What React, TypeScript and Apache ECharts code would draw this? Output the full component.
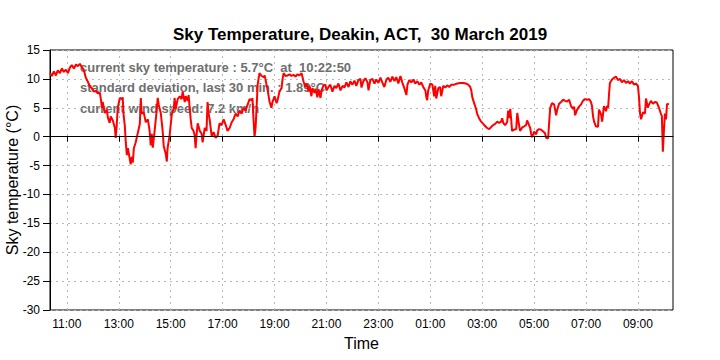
import React, { useEffect, useRef } from "react";
import * as echarts from "echarts";

// Time is expressed in hours since 00:00 on 30 March 2019 (values > 24 are 31 March).
const TITLE = "Sky Temperature, Deakin, ACT,  30 March 2019";
const Y_NAME = "Sky temperature (\u00B0C)";
const X_NAME = "Time";
const infoLines = [
  "current sky temperature : 5.7\u00B0C  at  10:22:50",
  "standard deviation, last 30 min. : 1.89\u00B0C",
  "current wind speed: 7.2 km/h",
];
const xStart = 10.35;
const xEnd = 34.35;
const xTickHours = [11, 13, 15, 17, 19, 21, 23, 25, 27, 29, 31, 33];
const yMin = -30;
const yMax = 15;
const yStep = 5;

const morning: [number, number][] = [
  [10.35, 11.0], [10.42, 10.5], [10.5, 11.3], [10.58, 10.6], [10.65, 11.5], [10.73, 11.0], [10.81, 11.8], [10.88, 11.2],
  [10.96, 11.6], [11.04, 11.0], [11.12, 12.0], [11.19, 12.4], [11.27, 11.8], [11.35, 12.5], [11.42, 12.2], [11.5, 12.6],
  [11.58, 12.0], [11.65, 11.6], [11.73, 10.2], [11.81, 9.5], [11.88, 8.7], [11.96, 8.4], [12.04, 7.8], [12.12, 7.9],
  [12.19, 7.5], [12.27, 7.6], [12.31, 6.5], [12.35, 5.0], [12.38, 6.0], [12.46, 4.1], [12.54, 4.6], [12.58, 3.3],
  [12.65, 2.4], [12.69, 3.5], [12.77, 2.8], [12.85, 1.5], [12.88, -0.2], [12.92, 2.0], [12.96, 5.0], [13.04, 6.7],
  [13.12, 6.5], [13.15, 6.8], [13.19, 3.5], [13.23, 2.0], [13.27, -1.0], [13.31, -3.2], [13.35, -2.0], [13.42, -3.8],
  [13.46, -4.8], [13.5, -3.5], [13.54, -4.5], [13.58, -2.0], [13.65, -1.0], [13.73, 0.6], [13.81, 2.2], [13.85, 6.7],
  [13.88, 4.0], [13.96, 4.2], [14.04, 2.5], [14.12, 3.0], [14.19, 0.9], [14.23, -1.5], [14.27, 0.5], [14.31, -1.9],
  [14.38, 1.0], [14.46, 4.5], [14.5, 6.7], [14.54, 5.5], [14.62, 4.0], [14.69, 1.0], [14.73, -1.6], [14.81, -3.0],
  [14.85, -4.3], [14.88, -2.0],
];

const afternoon: [number, number][] = [
  [14.96, 0.3], [15.04, 3.8], [15.12, 5.0], [15.15, 6.7], [15.19, 4.8], [15.27, 6.5], [15.35, 7.0], [15.42, 6.5],
  [15.46, 7.8], [15.54, 6.0], [15.58, 7.0], [15.65, 6.2], [15.69, 7.2], [15.73, 5.0], [15.77, 3.0], [15.81, 1.5],
  [15.88, 1.0], [15.92, 0.3], [15.96, -2.0], [16.0, 0.5], [16.04, 2.3], [16.12, 1.0], [16.19, 0.5], [16.23, -1.0],
  [16.31, 1.5], [16.38, 1.0], [16.42, 6.0], [16.46, 4.0], [16.5, 3.0], [16.58, 0.0], [16.65, 0.8], [16.73, -0.2],
  [16.81, 0.2], [16.88, 2.3], [16.96, 2.0], [17.04, 3.0], [17.12, 2.0], [17.19, 1.0], [17.27, 1.5], [17.35, 2.5],
  [17.42, 3.0], [17.5, 4.0], [17.58, 3.5], [17.65, 4.5], [17.73, 4.0], [17.81, 5.0], [17.88, 4.5], [17.96, 5.5],
  [18.04, 6.5], [18.12, 6.3], [18.15, 6.7], [18.19, 3.0], [18.23, 0.0], [18.27, 1.5],
];

const evening: [number, number][] = [
  [18.35, 9.0], [18.42, 11.0], [18.5, 10.5], [18.58, 10.3], [18.62, 10.6], [18.69, 9.0], [18.73, 8.2], [18.81, 6.0],
  [18.88, 5.0], [18.92, 6.0], [19.0, 7.0], [19.08, 5.8], [19.12, 6.4], [19.19, 7.8], [19.27, 8.4], [19.31, 10.0],
  [19.35, 11.0], [19.42, 10.5], [19.5, 10.6], [19.58, 10.8], [19.65, 10.5], [19.73, 10.7], [19.81, 10.4], [19.88, 10.8],
  [19.96, 10.6], [20.04, 11.0], [20.12, 9.5], [20.19, 8.6], [20.23, 9.2], [20.31, 7.8], [20.35, 8.8], [20.42, 7.0],
  [20.46, 8.4], [20.54, 7.6], [20.58, 8.3], [20.65, 6.8], [20.69, 8.2], [20.77, 6.7], [20.81, 8.0], [20.88, 8.8],
  [20.96, 9.0], [21.0, 8.0], [21.08, 8.6], [21.15, 9.0], [21.23, 7.8], [21.31, 8.8], [21.38, 8.4], [21.46, 9.2],
  [21.54, 8.0], [21.62, 8.8], [21.69, 8.5], [21.77, 9.4], [21.85, 8.6], [21.92, 9.6], [22.0, 9.0], [22.08, 9.7],
  [22.15, 8.8], [22.23, 9.8], [22.31, 10.0], [22.35, 8.5], [22.42, 9.6], [22.5, 10.1], [22.58, 9.4], [22.62, 8.0],
  [22.69, 9.8], [22.77, 10.0], [22.85, 9.2], [22.92, 9.9], [23.0, 9.3], [23.08, 10.2], [23.15, 9.4], [23.23, 8.6],
  [23.31, 9.9], [23.38, 10.2], [23.46, 9.5], [23.54, 10.4], [23.62, 9.6], [23.69, 10.3], [23.77, 9.2], [23.85, 10.5],
];

const night: [number, number][] = [
  [23.92, 9.4], [24.0, 8.4], [24.08, 7.2], [24.12, 9.0], [24.19, 9.8], [24.27, 9.4], [24.35, 9.9], [24.42, 9.2],
  [24.5, 9.6], [24.58, 9.0], [24.65, 9.4], [24.73, 8.6], [24.81, 8.0], [24.85, 6.8], [24.88, 6.3], [24.92, 8.0],
  [25.0, 9.2], [25.08, 9.0], [25.15, 7.0], [25.19, 8.8], [25.23, 6.6], [25.31, 8.4], [25.38, 8.6], [25.42, 7.0],
  [25.5, 8.8], [25.58, 8.5], [25.65, 8.9], [25.73, 8.6], [25.81, 9.0], [25.92, 9.0], [26.04, 9.2], [26.15, 9.3],
  [26.27, 9.3], [26.38, 9.2], [26.46, 9.0], [26.54, 8.6], [26.58, 8.0], [26.62, 6.8], [26.69, 5.8], [26.77, 4.7],
  [26.81, 3.9], [26.88, 3.2], [26.96, 2.6], [27.04, 2.2], [27.12, 1.8], [27.19, 1.5], [27.27, 1.3], [27.35, 1.7],
  [27.42, 2.0], [27.5, 2.2], [27.58, 2.6], [27.65, 2.4], [27.73, 2.6], [27.77, 3.2], [27.81, 2.4], [27.88, 2.0],
  [27.96, 2.5], [28.0, 4.5], [28.04, 3.2], [28.08, 4.8], [28.12, 2.8],
];

const dawn: [number, number][] = [
  [28.15, 1.0], [28.23, 1.2], [28.31, 1.3], [28.35, 4.1], [28.38, 3.2], [28.42, 2.0], [28.46, 1.0], [28.54, 1.6],
  [28.62, 1.8], [28.69, 2.0], [28.73, 2.8], [28.77, 2.4], [28.85, 1.5], [28.88, 0.6], [28.92, -0.1], [29.0, 0.9],
  [29.08, 0.4], [29.12, 1.1], [29.19, 1.3], [29.27, 1.2], [29.35, 0.9], [29.42, 0.6], [29.46, -0.2], [29.54, -0.3],
  [29.58, 2.5], [29.62, 5.0], [29.69, 5.8], [29.77, 5.6], [29.85, 3.7], [29.88, 4.5], [29.96, 5.7], [30.04, 6.0],
  [30.12, 6.4], [30.19, 6.2], [30.27, 6.1], [30.35, 6.4], [30.42, 5.3], [30.5, 4.8], [30.54, 5.2], [30.58, 3.7],
  [30.65, 4.6], [30.73, 5.2], [30.81, 5.6], [30.88, 6.2], [30.96, 6.5], [31.04, 6.4], [31.12, 6.5], [31.19, 6.0],
  [31.23, 5.3], [31.27, 3.5], [31.31, 2.6], [31.38, 1.8], [31.46, 1.7], [31.5, 4.7], [31.58, 3.8], [31.62, 2.6],
  [31.69, 5.3], [31.77, 4.4], [31.81, 5.3], [31.85, 5.0], [31.88, 7.0], [31.92, 9.3], [32.0, 9.9], [32.08, 10.2],
  [32.15, 10.4], [32.23, 9.8], [32.31, 10.0], [32.38, 9.4], [32.46, 9.8], [32.54, 9.3], [32.62, 9.6], [32.69, 9.2],
  [32.77, 9.6], [32.85, 9.0], [32.92, 9.2], [33.0, 8.8], [33.04, 6.8], [33.08, 4.0], [33.12, 3.0], [33.19, 4.2],
  [33.27, 4.0], [33.31, 6.6], [33.38, 5.0], [33.42, 5.5], [33.5, 6.2], [33.58, 5.7], [33.65, 6.0], [33.73, 5.9],
  [33.81, 5.0], [33.88, 4.0], [33.92, 3.6], [33.96, -2.6], [34.0, 1.0], [34.04, 4.0], [34.08, 3.0], [34.12, 5.6],
  [34.19, 5.7],
];

const FONT = '"Liberation Sans", Arial, sans-serif';

function hourLabel(v: number): string {
  const h = Math.round(v) % 24;
  return (h < 10 ? "0" : "") + h + ":00";
}

export default function App() {
  const ref = useRef<HTMLDivElement>(null);
  useEffect(() => {
    if (!ref.current) return;
    const chart = echarts.init(ref.current, undefined, { renderer: "svg" });
    const data = [...morning, ...afternoon, ...evening, ...night, ...dawn];
    const gridLine = { show: true, lineStyle: { color: "#b8b8b8", type: [2, 4] as any, width: 1 } };
    chart.setOption({
      animation: false,
      backgroundColor: "#ffffff",
      title: {
        text: TITLE,
        left: "center",
        top: 21,
        textStyle: { fontFamily: FONT, fontSize: 17, fontWeight: "bold", color: "#000" },
      },
      grid: {
        left: 50,
        right: 47,
        top: 50,
        bottom: 50,
        containLabel: false,
        outerBoundsMode: "none",
        show: true,
        borderColor: "#000",
        borderWidth: 1,
        backgroundColor: "transparent",
      },
      graphic: infoLines.map((t, i) => ({
        type: "text",
        x: 80,
        y: 67 + i * 20.7,
        z: 0,
        silent: true,
        style: {
          text: t,
          fill: "#6e6e6e",
          font: 'bold 13px "Liberation Sans", Arial, sans-serif',
          verticalAlign: "middle",
        },
      })),
      xAxis: {
        type: "value",
        min: xStart,
        max: xEnd,
        name: X_NAME,
        nameLocation: "middle",
        nameGap: 25,
        nameMoveOverlap: false,
        nameTextStyle: { fontFamily: FONT, fontSize: 16, color: "#000" },
        axisLine: { show: true, lineStyle: { color: "#000", width: 1 } },
        axisTick: { show: true, length: 5, customValues: xTickHours, lineStyle: { color: "#000" } },
        axisLabel: {
          customValues: xTickHours,
          formatter: hourLabel,
          fontFamily: FONT,
          fontSize: 12,
          color: "#000",
          margin: 8,
        },
        splitLine: gridLine,
      },
      yAxis: {
        type: "value",
        min: yMin,
        max: yMax,
        interval: yStep,
        name: Y_NAME,
        nameLocation: "middle",
        nameGap: 30,
        nameMoveOverlap: false,
        nameTextStyle: { fontFamily: FONT, fontSize: 16, color: "#000" },
        axisLine: { show: true, lineStyle: { color: "#000", width: 1 } },
        axisTick: { show: true, length: 7, lineStyle: { color: "#000" } },
        axisLabel: { fontFamily: FONT, fontSize: 12, color: "#000", margin: 10 },
        splitLine: gridLine,
      },
      series: [
        {
          type: "line",
          data,
          showSymbol: false,
          symbol: "none",
          z: 3,
          lineStyle: { color: "#ff0000", width: 2 },
          markLine: {
            silent: true,
            symbol: "none",
            label: { show: false },
            lineStyle: { color: "#000", type: "solid", width: 1 },
            data: [{ yAxis: 0 }],
          },
        },
      ],
    });
    return () => chart.dispose();
  }, []);
  return <div ref={ref} style={{ width: 720, height: 360, position: "absolute", left: 0, top: 0 }} />;
}
